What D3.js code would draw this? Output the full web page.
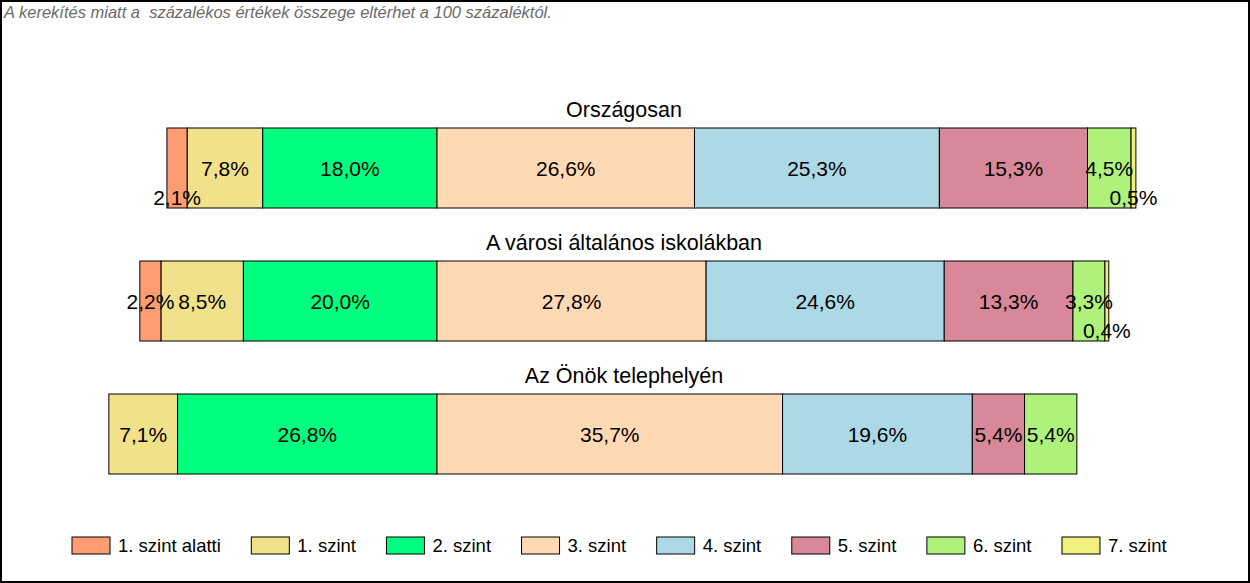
<!DOCTYPE html>
<html>
<head>
<meta charset="utf-8">
<script src="https://cdn.jsdelivr.net/npm/d3@7"></script>
<style>
  body { margin: 0; background: #fff; }
  text { font-family: "Liberation Sans", Arial, sans-serif; }
</style>
</head>
<body>
<div id="chart"></div>
<script>
var width = 1250, height = 583;

// data
var levels = ["1. szint alatti","1. szint","2. szint","3. szint","4. szint","5. szint","6. szint","7. szint"];
var colors = ["#FF9C72","#F0E18A","#00FF7F","#FFD9B3","#ADD8E6","#D98899","#AEF27C","#F0F07C"];
var groups = ["Országosan","A városi általános iskolákban","Az Önök telephelyén"];
var orszagos = [2.1, 7.8, 18.0, 26.6, 25.3, 15.3, 4.5, 0.5];
var varosi   = [2.2, 8.5, 20.0, 27.8, 24.6, 13.3, 3.3, 0.4];
var telephely = [0, 7.1, 26.8, 35.7, 19.6, 5.4, 5.4, 0];
var series = [orszagos, varosi, telephely];
var note = "A kerekítés miatt a  százalékos értékek összege eltérhet a 100 százaléktól.";

var svg = d3.select("#chart").append("svg")
  .attr("width", width)
  .attr("height", height);

// frame
svg.append("rect")
  .attr("x", 1).attr("y", 1)
  .attr("width", width - 2).attr("height", height - 2)
  .attr("fill", "#fff")
  .attr("stroke", "#000")
  .attr("stroke-width", 2);

svg.append("text")
  .attr("x", 4).attr("y", 18)
  .text(note)
  .style("font-size", "16.5px")
  .style("font-style", "italic")
  .style("white-space", "pre")
  .attr("fill", "#6a6a6a");

// bars are aligned on the 2./3. szint boundary
var pxPerPct = 9.68, split = 437;
var xScale = d3.scaleLinear()
  .domain([-40, 80])
  .range([split - 40 * pxPerPct, split + 80 * pxPerPct]);

var yScale = d3.scaleBand()
  .domain(groups)
  .range([128, 474])
  .paddingInner(53 / 133)
  .paddingOuter(0);

var fmt = function(v) { return v.toFixed(1).replace(".", ",") + "%"; };

series.forEach(function(vals, gi) {
  var y0 = yScale(groups[gi]);
  var bh = yScale.bandwidth();
  var left = -(vals[0] + vals[1] + vals[2]);
  var g = svg.append("g");

  svg.append("text")
    .attr("x", 624)
    .attr("y", y0 - 11)
    .attr("text-anchor", "middle")
    .style("font-size", "21.5px")
    .text(groups[gi]);

  var segs = [];
  var cum = left;
  vals.forEach(function(v, i) {
    segs.push({ v: v, i: i, a: cum, b: cum + v });
    cum += v;
  });

  g.selectAll("rect").data(segs.filter(function(d) { return d.v > 0; }))
    .enter().append("rect")
    .attr("x", function(d) { return xScale(d.a); })
    .attr("y", y0)
    .attr("width", function(d) { return xScale(d.b) - xScale(d.a); })
    .attr("height", bh)
    .attr("fill", function(d) { return colors[d.i]; })
    .attr("stroke", "#000")
    .attr("stroke-width", 1);

  var labels = g.selectAll("text.lbl").data(segs.filter(function(d) { return d.v > 0; }))
    .enter().append("text")
    .attr("class", "lbl")
    .attr("x", function(d) { return xScale((d.a + d.b) / 2); })
    .attr("y", y0 + bh / 2 + 7.5)
    .attr("text-anchor", "middle")
    .style("font-size", "21px")
    .text(function(d) { return fmt(d.v); });

  // push the smaller label down when neighbours collide
  var nodes = labels.nodes();
  for (var k = 1; k < nodes.length; k++) {
    var p = d3.select(nodes[k - 1]).datum(), c = d3.select(nodes[k]).datum();
    var pr = xScale((p.a + p.b) / 2) + nodes[k - 1].getComputedTextLength() / 2;
    var cl = xScale((c.a + c.b) / 2) - nodes[k].getComputedTextLength() / 2;
    if (cl - pr < 2) {
      var low = (p.v < c.v) ? nodes[k - 1] : nodes[k];
      d3.select(low).attr("y", y0 + bh - 3);
    }
  }
});

// legend
var legend = svg.append("g");
var lx = 72;
levels.forEach(function(name, i) {
  var item = legend.append("g").attr("transform", "translate(" + lx + ",0)");
  item.append("rect")
    .attr("x", 0).attr("y", 537)
    .attr("width", 38).attr("height", 17)
    .attr("fill", colors[i])
    .attr("stroke", "#000")
    .attr("stroke-width", 1);
  var t = item.append("text")
    .attr("x", 46).attr("y", 552)
    .style("font-size", "18.5px")
    .text(name);
  lx += 46 + t.node().getComputedTextLength() + 30.5;
});
</script>
</body>
</html>
